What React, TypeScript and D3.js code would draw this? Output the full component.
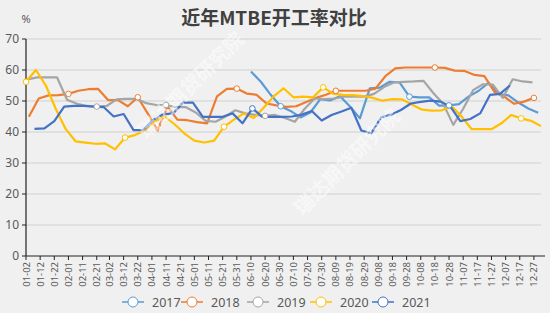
import React from "react";
import * as d3 from "d3";

const tickLabels = ["01-02","01-12","01-22","02-01","02-11","02-21","03-02","03-12","03-22","04-01","04-11","04-21","05-01","05-11","05-21","05-31","06-10","06-20","06-30","07-10","07-20","07-30","08-09","08-19","08-29","09-08","09-18","09-28","10-08","10-18","10-28","11-07","11-17","11-27","12-07","12-17","12-27"];
const yTicks = [0, 10, 20, 30, 40, 50, 60, 70];

const years = ["2017", "2018", "2019", "2020", "2021"];
const colors = ["#5B9BD5", "#ED7D31", "#A5A5A5", "#FFC000", "#4472C4"];
const startDates = ["06-10", "01-04", "01-03", "01-02", "01-08"];

const v2017 = [59.5,56.2,52,48.3,46.8,44.7,46.3,50.6,50.2,51.5,48.2,44.4,54.1,54.3,56.2,56,51.4,51.2,51.2,48.5,48.6,49,51.5,53.3,55.9,52.2,51.8,49.5,47.6,46.2];
const v2018 = [44.9,50.8,51.8,51.9,52.3,53.3,53.8,53.9,50.3,50.3,48.3,51.2,46,40.5,48.2,44,43.8,43.2,42.8,51.5,53.9,54,52.4,52,49.2,48.6,48.1,48.3,49.7,51,52,53.3,53.3,53.3,53.3,54,58,60.5,60.8,60.8,60.8,60.8,60.7,59.8,59.7,58.4,58,53,51.4,49.1,49.8,51];
const v2019 = [57,57.6,57.6,57.6,50.4,49.1,48.4,48.2,48.4,50.5,50.7,50.7,49.3,48.7,48.7,48,48,46.3,43.6,43.3,45,47,46,45.5,45.2,45.5,44.5,43.3,47.5,50.8,50.6,50.8,51.4,51.4,51.4,52.3,54.5,56,56.2,56.3,56.5,52.5,49,42.3,47.5,53.5,55.4,55.3,51,57,56.3,56];
const v2020 = [56.2,60,55,47.5,41,37,36.6,36.2,36.3,34.4,38.2,39,40.5,43.5,45,42.5,39.5,37.2,36.6,37.2,41.7,44,46,44.5,47.8,51.5,54.1,51.2,51.4,51.2,54.4,52.4,52,51.9,51.6,51,50.1,50.6,50.5,48.8,47.2,46.9,47,48.2,44.9,40.9,40.9,40.9,42.8,45.5,44.4,43.6,41.9];
const v2021 = [41,41.2,43.5,48.2,48.4,48.4,48.2,48,45,45.8,40.6,40.6,43.9,45.7,46,49.5,49.5,44.9,44.9,44.9,46,42.8,47.6,44.9,44.9,44.9,45,45.6,46.8,43.7,45.5,46.6,47.8,40.5,39.6,44.7,45.6,47.1,49.2,49.7,50.1,49.8,48.2,43.5,44.2,46,52,52.3,55];
const seriesValues = [v2017, v2018, v2019, v2020, v2021];
const markerIdx = [[3, 16, 20], [4, 11, 21, 31, 41, 51], [7, 14, 24], [0, 10, 20, 30, 50], [22]];

const W = 550, H = 313;
const left = 26, right = 541, top = 39, bottom = 256;
const parse = (s: string) => new Date(2021, +s.slice(0, 2) - 1, +s.slice(3, 5));

export default function App() {
  const x = d3.scaleTime().domain([new Date(2021, 0, 2), new Date(2022, 0, 1)]).range([left, right]);
  const y = d3.scaleLinear().domain([0, 70]).range([bottom, top]);
  const line = d3.line<[Date, number]>().x(d => x(d[0])).y(d => y(d[1]));
  const font = "'Noto Sans', 'DejaVu Sans', sans-serif";
  const textCol = "#595959";

  const series = years.map((yr, i) => {
    const s = parse(startDates[i]);
    const pts: [Date, number][] = seriesValues[i].map((v, k) => [d3.timeDay.offset(s, 7 * k), v]);
    return { yr, color: colors[i], pts, markers: markerIdx[i].filter(k => k < pts.length).map(k => pts[k]) };
  });

  const legendX = [122, 181, 247, 310, 372];

  return (
    <svg width={W} height={H} style={{ position: "absolute", left: 0, top: 0, background: "#f0f0f0" }}>
      <rect x={0} y={0} width={W} height={H} fill="#f0f0f0" />
      <text x={274} y={25} textAnchor="middle" fontSize={19} fontWeight="bold" fill="#404040"
        fontFamily="'Noto Sans CJK SC', sans-serif">近年MTBE开工率对比</text>
      <text x={26} y={23} textAnchor="middle" fontSize={11} fill={textCol} fontFamily={font}>%</text>
      {yTicks.map(t => (
        <g key={t}>
          {t > 0 && <line x1={left} x2={right} y1={y(t)} y2={y(t)} stroke="#d0d0d0" strokeWidth={1} />}
          <line x1={left - 4} x2={left} y1={y(t)} y2={y(t)} stroke="#222" />
          <text x={19} y={y(t) + 4} textAnchor="end" fontSize={12} fill={textCol} fontFamily={font}>{t}</text>
        </g>
      ))}
      <line x1={left} x2={left} y1={top} y2={bottom} stroke="#222" strokeWidth={1.2} />
      <line x1={left} x2={right + 4} y1={bottom} y2={bottom} stroke="#222" strokeWidth={1.2} />
      {tickLabels.map(l => {
        const px = x(parse(l));
        return (
          <g key={l}>
            <line x1={px} x2={px} y1={bottom} y2={bottom + 4} stroke="#222" />
            <text transform={`translate(${px + 3.5},${bottom + 6}) rotate(-90)`} textAnchor="end" fontSize={9.5}
              fill={textCol} fontFamily={font}>{l}</text>
          </g>
        );
      })}
      {series.map(s => (
        <path key={s.yr} d={line(s.pts) || ""} fill="none" stroke={s.color} strokeWidth={2.2} strokeLinejoin="round" />
      ))}
      {series.map(s => s.markers.map((p, j) => (
        <circle key={s.yr + j} cx={x(p[0])} cy={y(p[1])} r={2.8} fill="#fff" stroke={s.color} strokeWidth={1} />
      )))}
      <g fill="#ffffff" fillOpacity={0.55} fontSize={20} fontFamily="'Noto Sans CJK SC', sans-serif" fontWeight="bold">
        <text transform="translate(196,90) rotate(-45)" textAnchor="middle">瑞达期货研究院</text>
        <text transform="translate(352,167) rotate(-45)" textAnchor="middle">瑞达期货研究院</text>
      </g>
      {series.map((s, i) => (
        <g key={s.yr} transform={`translate(${legendX[i]},302)`}>
          <line x1={0} x2={22} y1={0} y2={0} stroke={s.color} strokeWidth={1.5} />
          <circle cx={11} cy={0} r={5} fill="#fff" stroke={s.color} strokeWidth={1} />
          <text x={30} y={4.5} fontSize={12.5} fill={textCol} fontFamily={font}>{s.yr}</text>
        </g>
      ))}
    </svg>
  );
}
